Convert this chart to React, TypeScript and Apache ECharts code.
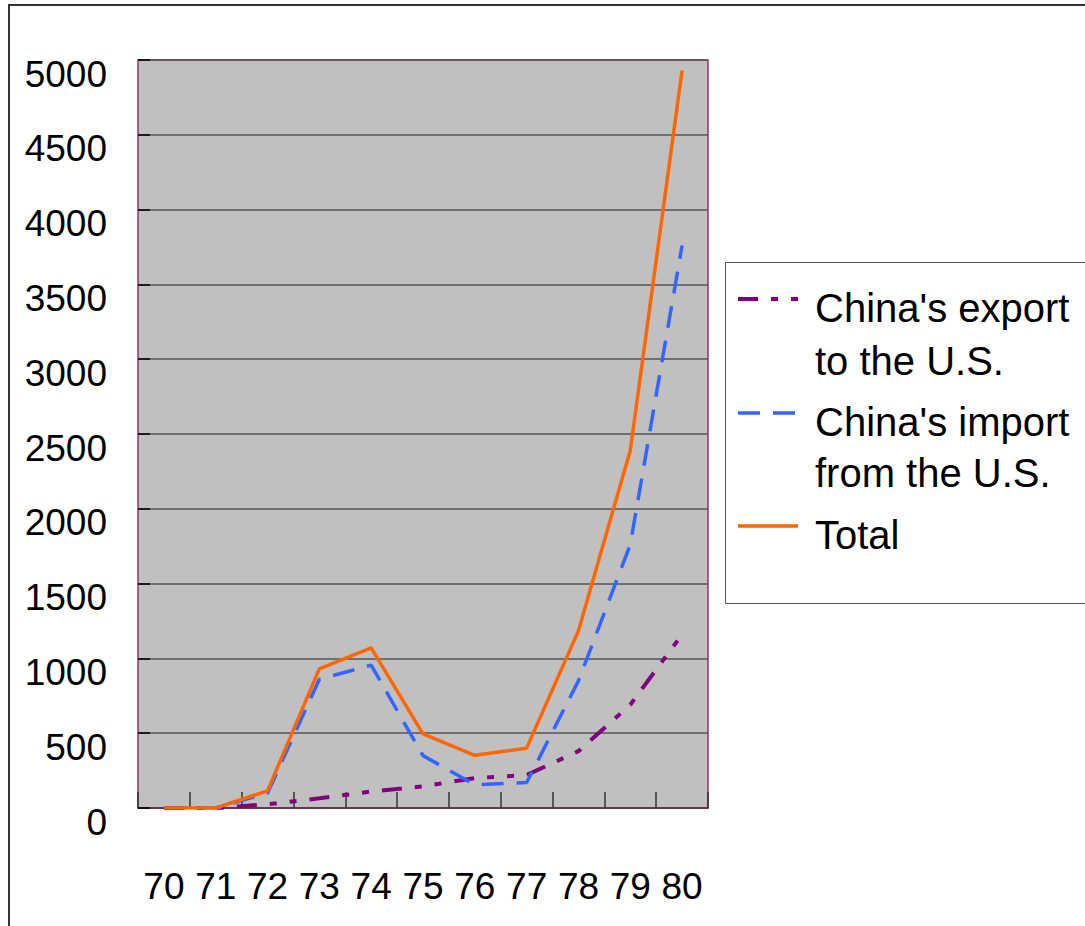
import React, { useEffect, useRef } from "react";
import * as echarts from "echarts";

const years = ["70", "71", "72", "73", "74", "75", "76", "77", "78", "79", "80"];
const exportToUS = [0, 0, 25, 65, 110, 145, 200, 220, 380, 690, 1160];
const importFromUS = [0, 0, 100, 860, 955, 350, 155, 170, 850, 1760, 3760];
const totalTrade = [0, 0, 115, 930, 1070, 495, 352, 400, 1185, 2390, 4930];

const seriesNames = ["China's export to the U.S.", "China's import from the U.S.", "Total"];
const legendLines = [["China's export", "to the U.S."], ["China's import", "from the U.S."], ["Total"]];
const seriesColors = ["#800080", "#3366FF", "#FF6600"];

const AXIS_FONT = "'Liberation Sans', Arial, sans-serif";
const LEGEND_FONT = "'Liberation Sans', Arial, sans-serif";

export default function App() {
  const ref = useRef<HTMLDivElement>(null);

  useEffect(() => {
    if (!ref.current) return;
    const chart = echarts.init(ref.current, null, { renderer: "svg" });

    const legendItemY = [299, 413, 526];
    const legendLineCenters = [[308, 361], [422, 473], [535]];
    const lineStyles: any[] = [
      { width: 4, type: [20, 13, 7, 13, 7, 13] },
      { width: 3.5, type: [22, 13] },
      { width: 3.5, type: "solid" },
    ];

    const legendGraphics: any[] = [];
    legendGraphics.push({
      type: "rect",
      shape: { x: 725.5, y: 262.5, width: 420, height: 341 },
      style: { fill: "#fff", stroke: "#555", lineWidth: 1 },
      z: 10,
    });
    seriesNames.forEach((_, i) => {
      legendGraphics.push({
        type: "line",
        shape: { x1: 738, y1: legendItemY[i], x2: 798, y2: legendItemY[i] },
        style: {
          stroke: seriesColors[i],
          lineWidth: lineStyles[i].width,
          lineDash: Array.isArray(lineStyles[i].type) ? lineStyles[i].type : null,
        },
        z: 11,
      });
      legendLines[i].forEach((t, j) => {
        legendGraphics.push({
          type: "text",
          x: 815,
          y: legendLineCenters[i][j],
          style: {
            text: t,
            font: `40px ${LEGEND_FONT}`,
            fill: "#000",
            verticalAlign: "middle",
            align: "left",
          },
          z: 11,
        });
      });
    });

    const series = [exportToUS, importFromUS, totalTrade].map((data, i) => ({
      name: seriesNames[i],
      type: "line",
      data,
      symbol: "none",
      showSymbol: false,
      lineStyle: { color: seriesColors[i], width: lineStyles[i].width, type: lineStyles[i].type },
      itemStyle: { color: seriesColors[i] },
      z: 3 + i,
    }));

    chart.setOption({
      animation: false,
      backgroundColor: "#fff",
      grid: {
        left: 138,
        top: 60,
        width: 570,
        height: 748,
        show: true,
        backgroundColor: "#C0C0C0",
        borderColor: "#993366",
        borderWidth: 1.5,
      },
      xAxis: {
        type: "category",
        data: years,
        boundaryGap: true,
        axisLine: { show: true, lineStyle: { color: "#6b2a4a", width: 1.5 } },
        axisTick: { show: true, inside: true, length: 16, alignWithLabel: false, lineStyle: { color: "#333", width: 1.5 } },
        axisLabel: {
          margin: 57,
          color: "#000",
          fontSize: 37,
          lineHeight: 42,
          fontFamily: AXIS_FONT,
          interval: 0,
        },
        splitLine: { show: false },
      },
      yAxis: {
        type: "value",
        min: 0,
        max: 5000,
        interval: 500,
        axisLine: { show: false },
        axisTick: { show: true, inside: true, length: 12, lineStyle: { color: "#000", width: 1.5 } },
        axisLabel: {
          margin: 31,
          color: "#000",
          fontSize: 37,
          lineHeight: 28,
          verticalAlign: "top",
          fontFamily: AXIS_FONT,
          formatter: (v: number) => String(v),
        },
        splitLine: { show: true, lineStyle: { color: "#555", width: 1.5 } },
      },
      series,
      graphic: [
        {
          type: "rect",
          shape: { x: 9, y: 5, width: 1200, height: 1000 },
          style: { fill: "none", stroke: "#333", lineWidth: 2 },
          z: 9,
        },
        ...legendGraphics,
      ],
    });

    return () => chart.dispose();
  }, []);

  return (
    <div
      ref={ref}
      style={{ position: "fixed", left: 0, top: 0, width: 1085, height: 926, background: "#fff" }}
    />
  );
}
